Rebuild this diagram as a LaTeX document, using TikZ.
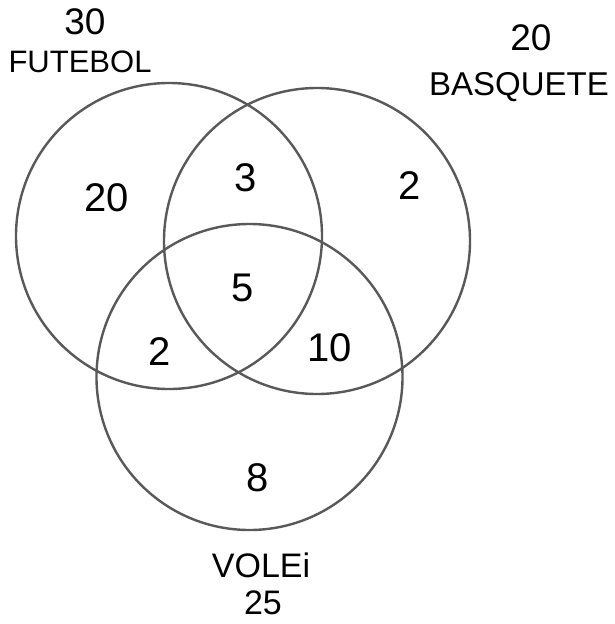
\documentclass[tikz,border=0pt]{standalone}
\usepackage{fontspec}
\setmainfont{Liberation Sans}
\begin{document}
\begin{tikzpicture}[x=1pt,y=-1pt,
  every node/.style={inner sep=0pt},
  ring/.style={draw=black!65,line width=2.4pt},
  num/.style={font=\fontsize{40}{40}\selectfont},
  lab/.style={font=\fontsize{#1}{#1}\selectfont},
  tot/.style={font=\fontsize{#1}{#1}\selectfont}]
\useasboundingbox[fill=white] (0,0) rectangle (614,624);
\draw[ring] (169,236) circle (153);
\draw[ring] (317,241) circle (153);
\draw[ring] (249.5,377) circle (153);
\node[tot=37] (t30) at (85,22) {30};
\node[lab=31] (fut) at (80,62) {FUTEBOL};
\node[tot=37] (t20) at (531,38) {20};
\node[lab=33] (bas) at (519,87) {BASQUETE};
\node[num] (n20) at (107,198) {20};
\node[num] (n3) at (246,178) {3};
\node[num] (n2b) at (410,186) {2};
\node[num] (n5) at (243,288) {5};
\node[num] (n2v) at (160,352) {2};
\node[num] (n10) at (330,348) {10};
\node[num] (n8) at (258,478) {8};
\node[lab=34] (vol) at (261,565) {VOLEi};
\node[tot=34] (t25) at (263,603) {25};
\end{tikzpicture}
\end{document}
